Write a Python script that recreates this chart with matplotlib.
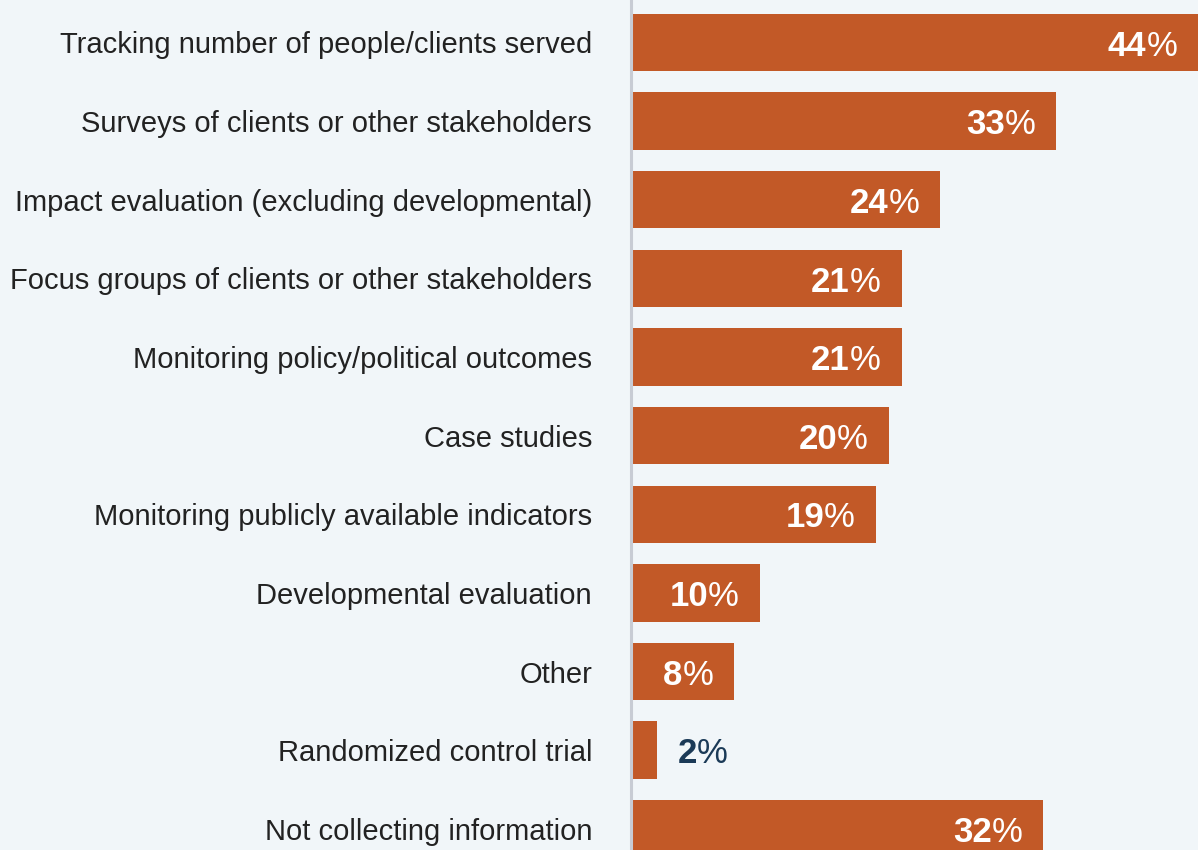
import matplotlib
matplotlib.use('Agg')
import matplotlib.pyplot as plt

plt.rcParams['font.family'] = ['Liberation Sans', 'DejaVu Sans']

methods = [
    'Tracking number of people/clients served',
    'Surveys of clients or other stakeholders',
    'Impact evaluation (excluding developmental)',
    'Focus groups of clients or other stakeholders',
    'Monitoring policy/political outcomes',
    'Case studies',
    'Monitoring publicly available indicators',
    'Developmental evaluation',
    'Other',
    'Randomized control trial',
    'Not collecting information',
]
shares = [44, 33, 24, 21, 21, 20, 19, 10, 8, 2, 32]

bg = '#f1f6f9'
bar_color = '#c25927'
navy = '#1b3a57'

fig = plt.figure(figsize=(11.98, 8.5), dpi=100, facecolor=bg)
ax = fig.add_axes([631 / 1198, 0, 1 - 631 / 1198, 1])
ax.set_facecolor(bg)

pos = list(range(len(methods)))
ax.barh(pos, shares, height=0.73, color=bar_color, zorder=2)
ax.set_xlim(0, 44)
ax.set_ylim(10.27, -0.54)

for s in ['top', 'right', 'bottom']:
    ax.spines[s].set_visible(False)
ax.spines['left'].set_color('#c8ccd4')
ax.spines['left'].set_linewidth(2.2)
ax.spines['left'].set_zorder(3)
ax.set_xticks([])
ax.set_yticks(pos)
ax.set_yticklabels(methods, fontsize=21, color='#222222')
ax.tick_params(axis='y', length=0, pad=28)

# bold number + regular "%" sign, inside the bar end (outside for tiny bars)
for y, v in zip(pos, shares):
    if v >= 5:
        pct = ax.annotate('%', xy=(v, y), xytext=(-15, -9.5), textcoords='offset points',
                          ha='right', va='baseline', fontsize=25, color='white', zorder=4)
        ax.annotate(str(v), xy=(0, 0), xycoords=pct, ha='right', va='bottom',
                    fontsize=25, fontweight='bold', color='white', zorder=4)
    else:
        num = ax.annotate(str(v), xy=(v, y), xytext=(15, -9.5), textcoords='offset points',
                          ha='left', va='baseline', fontsize=25, fontweight='bold', color=navy)
        ax.annotate('%', xy=(1, 0), xycoords=num, ha='left', va='bottom',
                    fontsize=25, color=navy)

fig.savefig('out.png', dpi=100, facecolor=bg)
